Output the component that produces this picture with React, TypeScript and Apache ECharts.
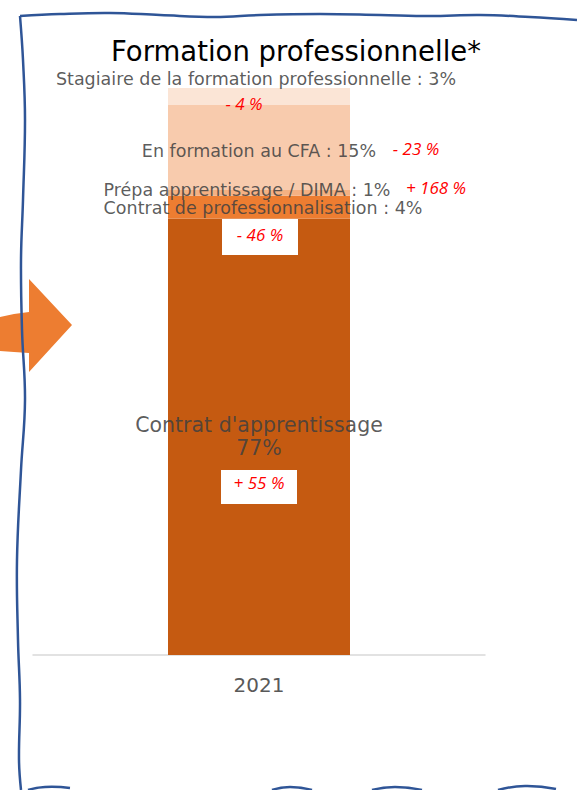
import React, { useEffect, useRef } from "react";
import * as echarts from "echarts";

const categories = ["2021"];
const seriesNames = [
  "Contrat d'apprentissage",
  "Contrat de professionnalisation",
  "Prépa apprentissage / DIMA",
  "En formation au CFA",
  "Stagiaire de la formation professionnelle",
];
const seriesValues = [77, 4, 1, 15, 3];
const evolutions = ["+ 55 %", "- 46 %", "+ 168 %", "- 23 %", "- 4 %"];
const seriesColors = ["#C55A11", "#ED7D31", "#F4B183", "#F8CBAD", "#FBE5D6"];

const FONT = "DejaVu Sans";
const LABEL_COLOR = "rgba(64,64,64,0.85)";

export default function App() {
  const ref = useRef<HTMLDivElement>(null);
  useEffect(() => {
    if (!ref.current) return;
    const chart = echarts.init(ref.current, null, { renderer: "svg" });

    const labelCfg: any[] = [
      { position: "inside", formatter: "{a}\n{c}%", fontSize: 20.5, lineHeight: 23, offset: [0, 0] },
      { position: "inside", formatter: "{a} : {c}%", fontSize: 17.5, offset: [4, 1] },
      { position: "inside", formatter: "{a} : {c}%", fontSize: 17.5, offset: [-12, -3] },
      { position: "inside", formatter: "{a} : {c}%", fontSize: 17.5, offset: [0, 3] },
      { position: "top", formatter: "{a} : {c}%", fontSize: 17.5, distance: 0, offset: [-3, 0] },
    ];

    const series = seriesNames.map((name, i) => ({
      name,
      type: "bar",
      stack: "total",
      barWidth: 182,
      data: [seriesValues[i]],
      itemStyle: { color: seriesColors[i] },
      label: {
        show: true,
        color: LABEL_COLOR,
        fontFamily: FONT,
        ...labelCfg[i],
      },
    }));

    const annoPos = [
      { x: 259, y: 482, box: [221, 470, 76, 34] },
      { x: 260, y: 234, box: [222, 219, 76, 36] },
      { x: 436, y: 187 },
      { x: 416, y: 148 },
      { x: 244, y: 103 },
    ];

    const graphics: any[] = [];
    graphics.push({
      type: "polygon",
      shape: {
        points: [
          [0, 317], [14, 314], [29, 312], [29, 279], [72, 325], [29, 372], [29, 353], [14, 352], [0, 351],
        ],
      },
      style: { fill: "#ED7D31" },
      z: 10,
    });
    const borderStyle = { stroke: "#2F5597", lineWidth: 2.5, fill: "none" };
    graphics.push({
      type: "polyline",
      shape: {
        smooth: 0.4,
        points: [
          [20, 16], [60, 14], [110, 13], [160, 15], [215, 17], [260, 15], [320, 14], [380, 15],
          [430, 16], [480, 15], [530, 17], [577, 20],
        ],
      },
      style: borderStyle,
      z: 11,
    });
    graphics.push({
      type: "polyline",
      shape: {
        smooth: 0.4,
        points: [
          [20, 16], [23, 60], [25, 120], [23, 200], [21, 260], [22, 330], [25, 400], [21, 470],
          [17, 560], [18, 640], [20, 700], [19, 760], [21, 790],
        ],
      },
      style: borderStyle,
      z: 11,
    });
    const bottomArcs = [
      [[28, 790], [45, 787], [70, 788]],
      [[272, 790], [290, 787], [312, 790]],
      [[372, 790], [395, 787], [422, 790]],
      [[498, 790], [525, 786], [556, 789]],
    ];
    bottomArcs.forEach((pts) =>
      graphics.push({
        type: "polyline",
        shape: { smooth: 0.5, points: pts },
        style: borderStyle,
        z: 11,
      })
    );
    evolutions.forEach((txt, i) => {
      const p: any = annoPos[i];
      if (p.box) {
        graphics.push({
          type: "rect",
          shape: { x: p.box[0], y: p.box[1], width: p.box[2], height: p.box[3] },
          style: { fill: "#FFFFFF" },
          z: 20,
        });
      }
      graphics.push({
        type: "text",
        x: p.x,
        y: p.y,
        style: {
          text: txt,
          fill: "#FF0000",
          font: "italic 17px 'Open Sans'",
          align: "center",
          verticalAlign: "middle",
        },
        z: 21,
      });
    });

    chart.setOption({
      animation: false,
      backgroundColor: "#FFFFFF",
      title: {
        text: "Formation professionnelle*",
        left: 291,
        top: 32,
        textAlign: "center",
        textStyle: { fontFamily: FONT, fontSize: 27.5, fontWeight: "normal", color: "#000000" },
      },
      grid: { left: 33, right: 92, top: 88, bottom: 135 },
      xAxis: {
        type: "category",
        data: categories,
        axisLine: { lineStyle: { color: "#D9D9D9", width: 1.5 } },
        axisTick: { show: false },
        axisLabel: { color: "#595959", fontFamily: FONT, fontSize: 20, margin: 20 },
      },
      yAxis: {
        type: "value",
        min: 0,
        max: 100,
        show: false,
        splitLine: { show: false },
      },
      series,
      graphic: graphics,
    });
    return () => chart.dispose();
  }, []);
  return <div ref={ref} style={{ width: 577, height: 790, position: "absolute", left: 0, top: 0 }} />;
}
